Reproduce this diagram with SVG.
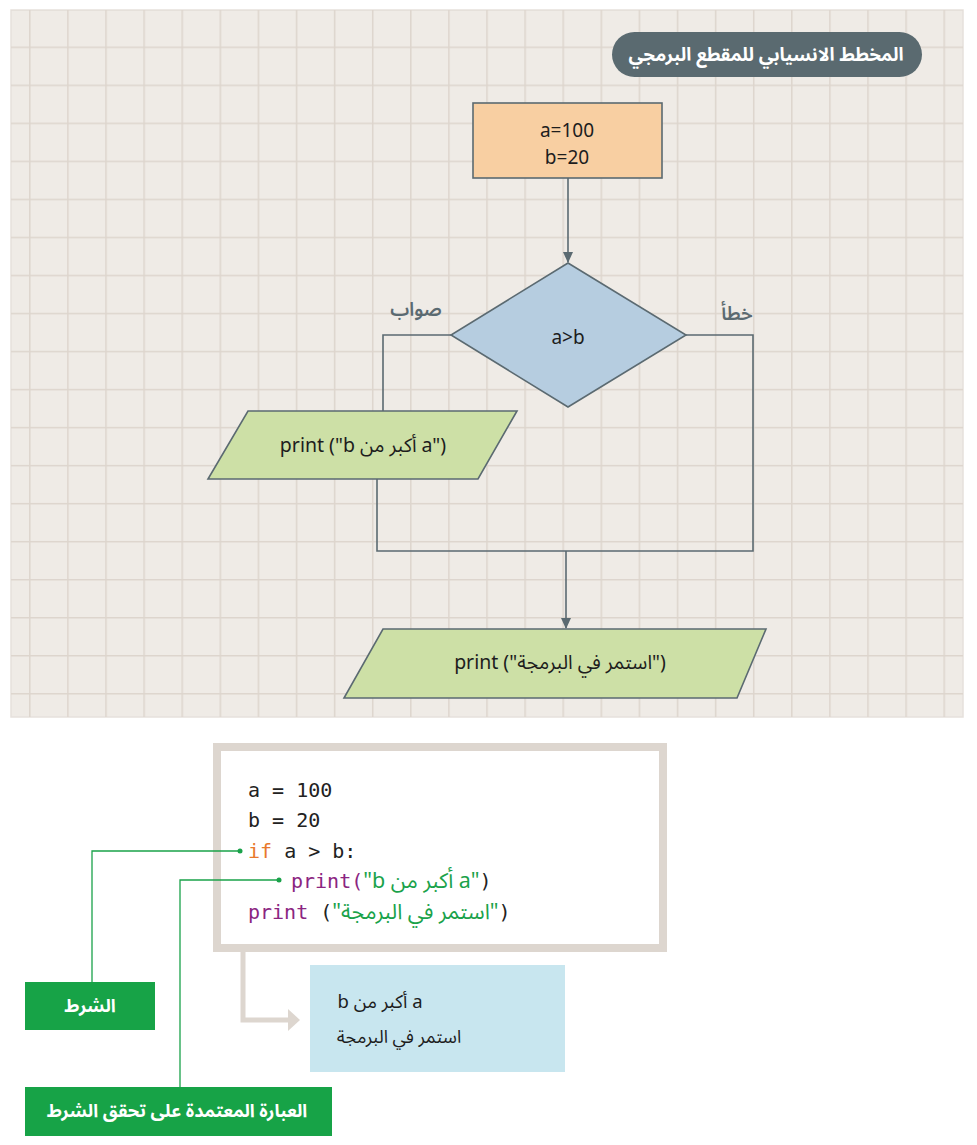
<svg xmlns="http://www.w3.org/2000/svg" width="977" height="1145" viewBox="0 0 977 1145">
<style>
.shape{stroke:#5b6a71;stroke-width:1.6}
.conn{fill:none;stroke:#5b6a71;stroke-width:1.6}
.t{font-family:"Noto Sans","Noto Sans Arabic","DejaVu Sans",sans-serif;fill:#1d1d1d}
.code{font-family:"DejaVu Sans Mono","Liberation Mono",monospace;font-size:20px;fill:#222}
.ar{font-family:"Noto Sans Arabic","Noto Sans","DejaVu Sans",sans-serif;font-size:21.5px}
.kw{fill:#e8792d}
.pr{fill:#8b2581}
.str{fill:#1aa24a}
.gl{fill:none;stroke:#1aa24a;stroke-width:1.3}
.gbox{fill:#17a347}
.lbl{font-family:"Noto Sans Arabic","Noto Sans","DejaVu Sans",sans-serif;font-weight:bold;fill:#fff;font-size:18px}
</style>
<defs>
<pattern id="grid" x="29.05" y="46.55" width="38.1" height="38.03" patternUnits="userSpaceOnUse">
<path d="M0.75 0V38.03M0 0.75H38.1" fill="none" stroke="#ddd5cd" stroke-width="1.5"/>
</pattern>
<marker id="arr" markerWidth="12" markerHeight="10" refX="10" refY="5" orient="auto" markerUnits="userSpaceOnUse">
<path d="M0 0L11 5L0 10Z" fill="#5b6a71"/>
</marker>
</defs>
<rect width="977" height="1145" fill="#ffffff"/>
<g id="background">
<rect x="11" y="10" width="952" height="707" fill="#efebe6" stroke="#e6e1dc" stroke-width="1.5"/>
<rect x="11" y="10" width="952" height="707" fill="url(#grid)"/>
</g>
<g id="title">
<rect x="612" y="32" width="310" height="45" rx="22.5" fill="#5a6a70"/>
<text x="766" y="61" class="lbl" style="font-size:18.5px" text-anchor="middle" direction="rtl">المخطط الانسيابي للمقطع البرمجي</text>
</g>
<g id="connectors">
<path class="conn" d="M568 178V262" marker-end="url(#arr)"/>
<path class="conn" d="M451 335H383V411"/>
<path class="conn" d="M686 335H753V551H377V479"/>
<path class="conn" d="M566 551V628" marker-end="url(#arr)"/>
</g>
<g id="init">
<rect class="shape" x="473" y="103" width="189" height="75" fill="#f8cfa2"/>
<text class="t" x="567" y="137" font-size="19" text-anchor="middle">a=100</text>
<text class="t" x="567" y="164" font-size="19" text-anchor="middle">b=20</text>
</g>
<g id="decision">
<polygon class="shape" points="568,263 686,335 568,407 451,335" fill="#b6cde0"/>
<text class="t" x="568" y="344" font-size="19" text-anchor="middle">a&gt;b</text>
</g>
<g id="label-true">
<text class="t" x="416" y="316" font-size="19" font-weight="600" text-anchor="middle" direction="rtl" style="fill:#5b6a71">صواب</text>
</g>
<g id="label-false">
<text class="t" x="737" y="320" font-size="19" font-weight="600" text-anchor="middle" direction="rtl" style="fill:#5b6a71">خطأ</text>
</g>
<g id="print1">
<polygon class="shape" points="248,411 517,411 478,479 208,479" fill="#cde0a6"/>
<text class="t" x="363" y="452" font-size="19.5" text-anchor="middle">print ("b أكبر من a")</text>
</g>
<g id="print2">
<polygon class="shape" points="383,629 766,629 737,698 344,698" fill="#cde0a6"/>
<text class="t" x="560" y="669" font-size="19.5" text-anchor="middle">print ("استمر في البرمجة")</text>
</g>
<g id="code">
<rect x="217" y="747" width="446" height="201" fill="#ffffff" stroke="#ddd6cf" stroke-width="8"/>
<text class="code" x="248" y="797">a = 100</text>
<text class="code" x="248" y="827">b = 20</text>
<text class="code" x="248" y="858"><tspan class="kw">if</tspan> a &gt; b:</text>
<text class="code" x="291" y="888"><tspan class="pr">print(</tspan><tspan class="ar str">"b أكبر من a"</tspan>)</text>
<text class="code" x="248" y="919"><tspan class="pr">print</tspan> (<tspan class="ar str">"استمر في البرمجة"</tspan>)</text>
</g>
<g id="output-arrow">
<path d="M243 952V1020H290" fill="none" stroke="#ddd6cf" stroke-width="5"/>
<path d="M288 1009L300 1020L288 1031Z" fill="#ddd6cf"/>
</g>
<g id="output">
<rect x="310" y="965" width="255" height="107" fill="#c8e6ef"/>
<text class="t" x="380" y="1008" font-size="18.5" text-anchor="middle" direction="rtl">a أكبر من b</text>
<text class="t" x="399" y="1043" font-size="18" text-anchor="middle" direction="rtl">استمر في البرمجة</text>
</g>
<g id="annotations">
<path class="gl" d="M240 851H92V983"/>
<circle cx="240" cy="851" r="2.5" fill="#1aa24a"/>
<path class="gl" d="M279 880H180V1088"/>
<circle cx="279" cy="880" r="2.5" fill="#1aa24a"/>
</g>
<g id="label-condition">
<rect class="gbox" x="25" y="982" width="130" height="48"/>
<text class="lbl" x="90" y="1012" text-anchor="middle" direction="rtl">الشرط</text>
</g>
<g id="label-statement">
<rect class="gbox" x="25" y="1087" width="307" height="49"/>
<text class="lbl" x="177" y="1117" text-anchor="middle" direction="rtl">العبارة المعتمدة على تحقق الشرط</text>
</g>
</svg>
